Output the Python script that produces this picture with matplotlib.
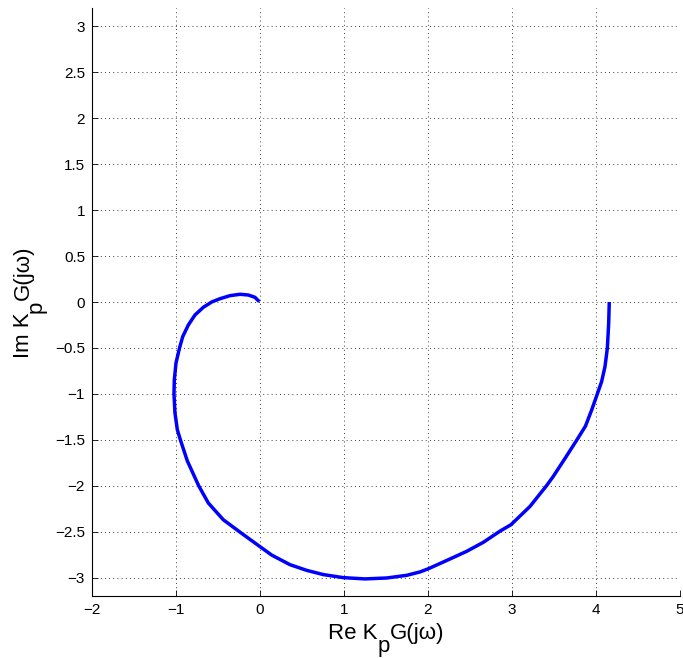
import matplotlib
matplotlib.use("Agg")
import matplotlib.pyplot as plt
from matplotlib.transforms import IdentityTransform

plt.rcParams['font.family'] = ['Liberation Sans', 'DejaVu Sans']

# Points (Re, Im), from omega = 0 to large omega
re_vals = [4.158, 4.151, 4.135, 4.107, 4.067, 4.016, 3.949, 3.875, 3.78, 3.64,
           3.49, 3.413, 3.214, 2.988, 2.857, 2.658, 2.46, 2.262, 2.0, 1.905,
           1.746, 1.508, 1.25, 0.99, 0.754, 0.556, 0.357, 0.14, 0.0, -0.238,
           -0.437, -0.615, -0.73, -0.865, -0.948, -0.984, -1.012, -1.024, -1.02, -1.0,
           -0.958, -0.92, -0.853, -0.774, -0.675, -0.575, -0.476, -0.357, -0.238, -0.139,
           -0.06, -0.008]
im_vals = [0.0, -0.232, -0.503, -0.703, -0.866, -1.0, -1.174, -1.35, -1.49, -1.69,
           -1.9, -1.997, -2.225, -2.424, -2.494, -2.616, -2.714, -2.797, -2.905, -2.938,
           -2.975, -3.004, -3.014, -3.0, -2.967, -2.921, -2.859, -2.755, -2.663, -2.505,
           -2.37, -2.188, -2.0, -1.73, -1.5, -1.391, -1.21, -1.0, -0.848, -0.663,
           -0.5, -0.377, -0.25, -0.141, -0.058, 0.0, 0.036, 0.069, 0.084, 0.076,
           0.051, 0.003]

x_ticks = [-2, -1, 0, 1, 2, 3, 4, 5]
y_ticks = [-3, -2.5, -2, -1.5, -1, -0.5, 0, 0.5, 1, 1.5, 2, 2.5, 3]
y_tick_labels = ['\u22123', '\u22122.5', '\u22122', '\u22121.5', '\u22121', '\u22120.5',
                 '0', '0.5', '1', '1.5', '2', '2.5', '3']
x_tick_labels = ['\u22122', '\u22121', '0', '1', '2', '3', '4', '5']

xlabel_parts = [('Re K', 0), ('p', 1), ('G(j\u03c9)', 0)]
ylabel_parts = [('Im K', 0), ('p', 1), ('G(j\u03c9)', 0)]

W, H = 683, 658
fig = plt.figure(figsize=(W / 100, H / 100), dpi=100)
ax = fig.add_axes([92 / W, 1 - 596 / H, 588 / W, 588 / H])

ax.plot(re_vals, im_vals, color='#0000ff', linewidth=2.5,
        solid_capstyle='butt', solid_joinstyle='round')

ax.set_xlim(-2, 5)
ax.set_ylim(-3.2, 3.2)
ax.set_xticks(x_ticks)
ax.set_xticklabels(x_tick_labels)
ax.set_yticks(y_ticks)
ax.set_yticklabels(y_tick_labels)
ax.tick_params(direction='in', length=4, width=0.6, labelsize=11, colors='black', pad=5)
ax.grid(True, color='black', linestyle=(0, (1, 4)), linewidth=0.6)
ax.spines['top'].set_visible(False)
ax.spines['right'].set_visible(False)
ax.spines['left'].set_linewidth(0.8)
ax.spines['bottom'].set_linewidth(0.8)

renderer = fig.canvas.get_renderer()
FS = 16
DROP = 13  # pixels the subscript is lowered


def compose(parts, center, base, vertical):
    widths = []
    for s, _ in parts:
        t = fig.text(0, 0, s, fontsize=FS)
        widths.append(t.get_window_extent(renderer).width)
        t.remove()
    total = sum(widths)
    pos = center - total / 2
    for (s, drop), w in zip(parts, widths):
        if vertical:
            fig.text(base + drop * DROP, pos, s, fontsize=FS, rotation=90,
                     rotation_mode='anchor', ha='left', va='baseline',
                     transform=IdentityTransform())
        else:
            fig.text(pos, base - drop * DROP, s, fontsize=FS,
                     ha='left', va='baseline', transform=IdentityTransform())
        pos += w


compose(xlabel_parts, 386, H - 639, vertical=False)
compose(ylabel_parts, H - 302, 29, vertical=True)

fig.savefig('out.png', dpi=100)
